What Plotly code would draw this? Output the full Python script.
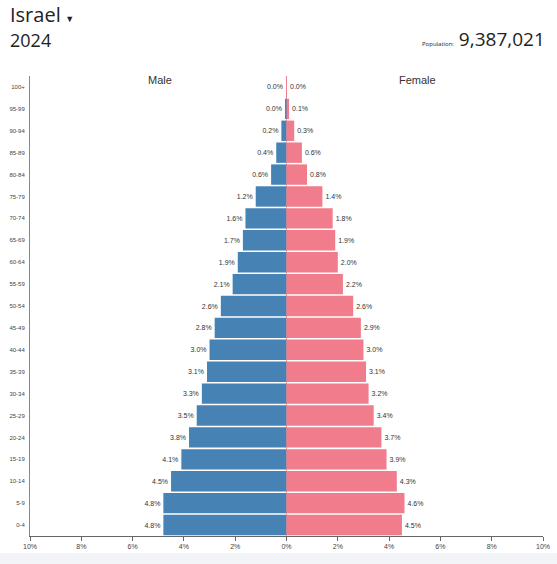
import plotly.graph_objects as go

# 年龄组（从下到上）
age_groups = ['0-4', '5-9', '10-14', '15-19', '20-24', '25-29', '30-34', '35-39',
              '40-44', '45-49', '50-54', '55-59', '60-64', '65-69', '70-74', '75-79',
              '80-84', '85-89', '90-94', '95-99', '100+']

# 占总人口百分比
male_pct = [4.8, 4.8, 4.5, 4.1, 3.8, 3.5, 3.3, 3.1, 3.0, 2.8, 2.56, 2.1, 1.9, 1.7,
            1.6, 1.2, 0.6, 0.4, 0.2, 0.04, 0.01]
female_pct = [4.5, 4.6, 4.3, 3.9, 3.7, 3.4, 3.2, 3.1, 3.0, 2.9, 2.6, 2.2, 2.0, 1.9,
              1.8, 1.4, 0.8, 0.6, 0.3, 0.1, 0.01]

x_ticks = [-10, -8, -6, -4, -2, 0, 2, 4, 6, 8, 10]
x_tick_text = ['10%', '8%', '6%', '4%', '2%', '0%', '2%', '4%', '6%', '8%', '10%']

label_font = dict(family='Liberation Sans, Arial', size=7, color='#333')

fig = go.Figure()
fig.add_trace(go.Bar(
    y=age_groups, x=[-v for v in male_pct], orientation='h', name='Male',
    marker=dict(color='#4682B4', line=dict(width=0)),
    text=[f'{v:.1f}%' for v in male_pct], textposition='outside',
    textfont=label_font, cliponaxis=False, hoverinfo='skip'))
fig.add_trace(go.Bar(
    y=age_groups, x=female_pct, orientation='h', name='Female',
    marker=dict(color='#F07C8C', line=dict(width=0)),
    text=[f'{v:.1f}%' for v in female_pct], textposition='outside',
    textfont=label_font, cliponaxis=False, hoverinfo='skip'))

fig.update_layout(
    width=557, height=564,
    margin=dict(l=30, r=14, t=76, b=28, autoexpand=False),
    barmode='overlay', bargap=0.07,
    showlegend=False,
    paper_bgcolor='white', plot_bgcolor='white',
    font=dict(family='Liberation Sans, Arial', color='#333'),
)
fig.update_xaxes(
    range=[-10, 10], tickvals=x_ticks, ticktext=x_tick_text, automargin=False,
    showgrid=False, zeroline=False, showline=True, linecolor='#666', linewidth=1,
    ticks='outside', ticklen=4, tickcolor='#666',
    tickfont=dict(family='Liberation Sans, Arial', size=7, color='#444'))
fig.update_yaxes(
    range=[-0.5, 20.5], type='category', automargin=False,
    showgrid=False, zeroline=False, showline=True, linecolor='#888', linewidth=1,
    ticks='', ticklabelstandoff=3,
    tickfont=dict(family='Liberation Sans, Arial', size=6, color='#444'))

# 中线
fig.add_shape(type='line', xref='x', yref='paper', x0=0, x1=0, y0=0, y1=1,
              line=dict(color='#E8A0AA', width=1), layer='below')
# 底部浅灰条
fig.add_shape(type='rect', xref='paper', yref='paper', x0=-0.1, x1=1.1,
              y0=-0.037, y1=-0.1, fillcolor='#F3F4F8', line=dict(width=0))

fig.add_annotation(x=-10, y=20.5, xref='x', yref='y', text='Male', showarrow=False,
                   xanchor='left', yanchor='bottom', xshift=116, yshift=-12,
                   font=dict(size=11, color='#333'))
fig.add_annotation(x=0, y=20.5, xref='x', yref='y', text='Female', showarrow=False,
                   xanchor='left', yanchor='bottom', xshift=110, yshift=-12,
                   font=dict(size=11, color='#333'))

fig.add_annotation(x=0, y=1, xref='paper', yref='paper', xanchor='left', yanchor='middle',
                   xshift=-22, yshift=62, showarrow=False,
                   text="Israel<span style='font-size:9px'>&nbsp;&nbsp;▼</span>",
                   font=dict(family='Open Sans, Noto Sans', size=20, color='#222'))
fig.add_annotation(x=0, y=1, xref='paper', yref='paper', xanchor='left', yanchor='middle',
                   xshift=-22, yshift=36, showarrow=False, text='2024',
                   font=dict(family='Open Sans, Noto Sans', size=18, color='#222'))
fig.add_annotation(x=1, y=1, xref='paper', yref='paper', xanchor='right', yanchor='middle',
                   xshift=4, yshift=37, showarrow=False,
                   text="<span style='font-size:6px'>Population:</span> 9,387,021",
                   font=dict(family='Open Sans, Noto Sans', size=19, color='#222'))

# 去掉页面 body 的默认边距，隐藏工具栏
fig.write_html('out.html', config={'displayModeBar': False},
               post_script="document.body.style.margin='0';")
